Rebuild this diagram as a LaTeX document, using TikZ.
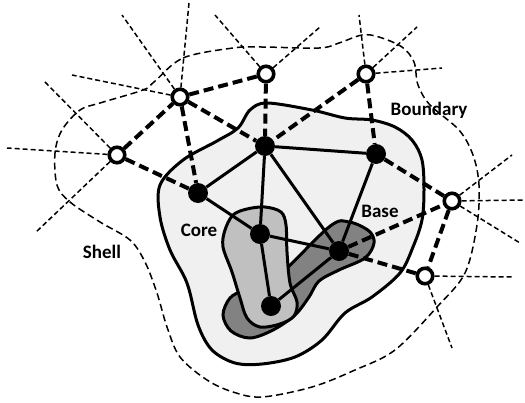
\documentclass[tikz,border=0pt]{standalone}
\usepackage{fontspec}
\setmainfont{Carlito}
\definecolor{corefill}{HTML}{F0F0F0}
\definecolor{lightreg}{HTML}{C0C0C0}
\definecolor{darkreg}{HTML}{828282}
\begin{document}
\begin{tikzpicture}[x=1pt,y=-1pt,
  wnode/.style={circle,draw=black,fill=white,line width=3.6pt,minimum size=15.5pt,inner sep=0pt},
  bnode/.style={circle,fill=black,minimum size=20pt,inner sep=0pt},
  solidedge/.style={line width=3pt},
  thickdash/.style={line width=4pt,dash pattern=on 10pt off 5pt},
  thindash/.style={line width=1.5pt,dash pattern=on 5pt off 3pt},
  shelldash/.style={line width=1.5pt,dash pattern=on 7pt off 4pt},
  region/.style={line width=3pt,draw=black},
  lbl/.style={font=\fontsize{19}{22}\selectfont\bfseries,inner sep=0pt}]
\useasboundingbox (0,0) rectangle (525,402);

% shell
\draw[shelldash] plot[smooth cycle,tension=0.55] coordinates {
 (154,82) (183,58) (233,48) (262,47) (319,48) (339,43) (362,35) (379,37)
 (402,47) (414,62) (418,85) (430,105) (459,130) (473,155) (479,185)
 (477,225) (465,273) (437,307) (395,350) (355,370) (312,387) (262,397)
 (233,392) (207,380) (180,357) (167,327) (157,293) (145,262) (130,240)
 (100,222) (70,202) (57,185) (55,153) (62,130) (80,110) (100,103) (143,90)};

% core region
\draw[region,fill=corefill] plot[smooth cycle,tension=0.55] coordinates {
 (250,110) (267,103) (312,110) (345,118) (372,120) (395,127) (412,140)
 (422,160) (424,190) (422,220) (413,247) (400,273) (372,297) (345,313)
 (322,340) (295,357) (262,364) (235,363) (212,350) (198,325) (187,283)
 (170,250) (160,217) (160,185) (183,160) (217,141) (238,128)};

% base (dark)
\draw[region,fill=darkreg] plot[smooth cycle,tension=0.55] coordinates {
 (329,227) (349,222) (369,231) (374,243) (365,258) (339,270) (319,281)
 (309,297) (295,315) (273,330) (250,338) (231,331) (223,315) (230,298)
 (245,290) (270,284)};

% core (light)
\draw[region,fill=lightreg] plot[smooth cycle,tension=0.55] coordinates {
 (247,209) (265,207) (281,212) (286,225) (287,252) (290,283) (297,302)
 (294,316) (280,324) (260,327) (247,318) (240,298) (232,272) (223,247)
 (225,230) (233,215)};

% nodes
\node[wnode] (W1) at (117,155) {};
\node[wnode] (W2) at (180,97) {};
\node[wnode] (W3) at (266,74) {};
\node[wnode] (W4) at (366,74) {};
\node[wnode] (W5) at (452,201) {};
\node[wnode] (W6) at (425,276) {};
\node[bnode] (B1) at (198,193) {};
\node[bnode] (B2) at (265,146) {};
\node[bnode] (B3) at (376,154) {};
\node[bnode] (B4) at (260,234) {};
\node[bnode] (B5) at (339,251) {};
\node[bnode] (B6) at (271,306) {};

% free ends of thin dashed lines
\coordinate (e1) at (7,148);
\coordinate (e2) at (43,80);
\coordinate (e3) at (35,233);
\coordinate (e4) at (72,75);
\coordinate (e5) at (122,15);
\coordinate (e6) at (189,3);
\coordinate (e7) at (215,15);
\coordinate (e8) at (320,27);
\coordinate (e9) at (359,15);
\coordinate (e10) at (417,27);
\coordinate (e11) at (442,68);
\coordinate (e12) at (512,155);
\coordinate (e13) at (524,200);
\coordinate (e14) at (520,243);
\coordinate (e15) at (512,277);
\coordinate (e16) at (452,348);

\foreach \a/\b in {W1/e1,W1/e2,W1/e3,W2/e4,W2/e5,W2/e6,W3/e7,W3/e8,
  W4/e9,W4/e10,W4/e11,W5/e12,W5/e13,W5/e14,W6/e15,W6/e16}
  \draw[thindash] (\a) -- (\b);

% thick dashed edges
\foreach \a/\b in {W1/W2,W1/B1,W2/B1,W2/B2,W2/W3,W3/B2,W4/B2,W4/B3,
  B3/W5,B5/W5,B5/W6,W5/W6}
  \draw[thickdash] (\a) -- (\b);

% solid edges
\foreach \a/\b in {B1/B2,B2/B3,B2/B4,B2/B5,B3/B5,B1/B4,B4/B5,B4/B6,B6/B5}
  \draw[solidedge] (\a) -- (\b);

% labels
\node[lbl] (lb) at (429,110) {Boundary};
\node[lbl] (lba) at (380,211) {Base};
\node[lbl] (lc) at (199,230) {Core};
\node[lbl] (ls) at (102,252) {Shell};
\end{tikzpicture}
\end{document}
